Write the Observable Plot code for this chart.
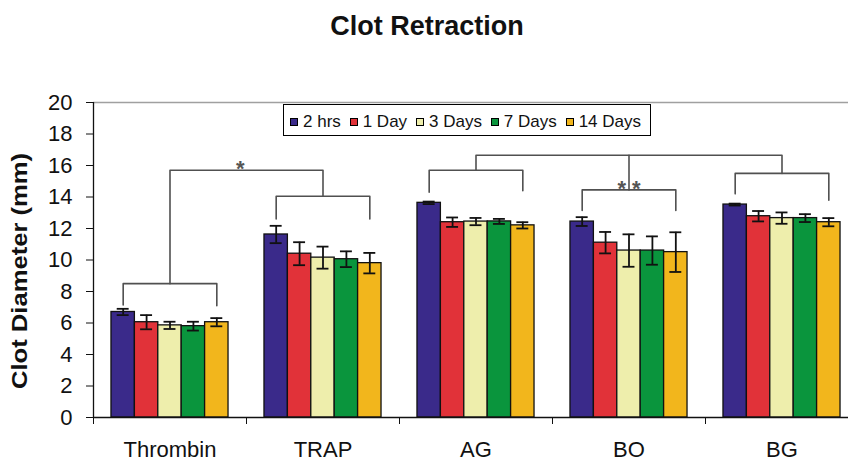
<!DOCTYPE html>
<html><head><meta charset="utf-8">
<script src="https://cdn.jsdelivr.net/npm/d3@7"></script>
<script src="https://cdn.jsdelivr.net/npm/@observablehq/plot@0.6"></script>
<style>
body{margin:0;background:#fff;font-family:"Liberation Sans",Arial,sans-serif;}
#wrap{position:relative;width:848px;height:462px;overflow:hidden;background:#fff}
#title{height:50px;box-sizing:border-box;padding-top:13px;font-size:27px;line-height:27px;font-weight:bold;text-align:center;padding-left:6px;color:#111}
#legend{position:absolute;left:283px;top:104px;width:368px;height:32px;box-sizing:border-box;border:1px solid #000;background:#fff;display:flex;align-items:center;justify-content:space-between;padding:3px 9px 0 6px;font-size:17px;color:#111}
.item{display:flex;align-items:center;white-space:nowrap}
.sw{width:6px;height:6px;border:1px solid #000;margin-right:5px}
</style></head>
<body><div id="wrap"><div id="title">Clot Retraction</div><div id="chart"></div><div id="legend"></div></div>
<script>
// ---- data ----
const categories = ["Thrombin", "TRAP", "AG", "BO", "BG"];
const seriesNames = ["2 hrs", "1 Day", "3 Days", "7 Days", "14 Days"];
const seriesColors = ["#3a2a8a", "#e13239", "#eeeeac", "#0a953d", "#f2b61c"];

const hrs2  = [6.7, 11.62, 13.63, 12.44, 13.52];
const day1  = [6.05, 10.4, 12.4, 11.1, 12.78];
const day3  = [5.85, 10.15, 12.44, 10.6, 12.66];
const day7  = [5.8, 10.05, 12.45, 10.6, 12.66];
const day14 = [6.05, 9.8, 12.2, 10.5, 12.4];

const err2  = [0.2, 0.55, 0.08, 0.28, 0.06];
const err1  = [0.45, 0.73, 0.3, 0.68, 0.33];
const err3  = [0.23, 0.7, 0.23, 1.03, 0.36];
const err7  = [0.28, 0.5, 0.16, 0.9, 0.25];
const err14 = [0.26, 0.65, 0.2, 1.26, 0.26];

const yTicks = [0, 2, 4, 6, 8, 10, 12, 14, 16, 18, 20];

// significance brackets per category (mm)
const bracketTop      = [8.5, 14.05, 15.7, 14.45, 15.5];
const bracketLeftEnd  = [7.15, 12.6, 14.3, 13.15, 14.2];
const bracketRightEnd = [7.1, 12.6, 14.4, 13.15, 13.8];
// connectors joining brackets
const linkFrom = ["Thrombin", "AG"];
const linkTo   = ["TRAP", "BG"];
const linkVia  = [null, "BO"];
const linkTop  = [15.7, 16.65];
// stars
const starText = ["*", "* *"];
const starX    = [0.46, 3];
const starY    = [15.75, 14.5];

// ---- build tables ----
const W = 0.153;   // bar width in category units
const CAP = 0.039; // half cap width
const allMeans = [hrs2, day1, day3, day7, day14];
const allErrs = [err2, err1, err3, err7, err14];
const rows = [];
categories.forEach((c, i) => seriesNames.forEach((s, j) => {
  rows.push({cat: c, series: s, gi: i, j, value: allMeans[j][i], err: allErrs[j][i]});
}));
const cx = d => d.gi + (d.j - 2) * W;

const pts = [];
categories.forEach((c, i) => {
  const id = "b" + i;
  pts.push({id, x: i - 2 * W, y: bracketLeftEnd[i]});
  pts.push({id, x: i - 2 * W, y: bracketTop[i]});
  pts.push({id, x: i + 2 * W, y: bracketTop[i]});
  pts.push({id, x: i + 2 * W, y: bracketRightEnd[i]});
});
linkFrom.forEach((f, k) => {
  const a = categories.indexOf(f), b = categories.indexOf(linkTo[k]);
  const id = "l" + k;
  pts.push({id, x: a, y: bracketTop[a]});
  pts.push({id, x: a, y: linkTop[k]});
  pts.push({id, x: b, y: linkTop[k]});
  pts.push({id, x: b, y: bracketTop[b]});
  if (linkVia[k]) {
    const v = categories.indexOf(linkVia[k]);
    pts.push({id: id + "v", x: v, y: linkTop[k]});
    pts.push({id: id + "v", x: v, y: bracketTop[v]});
  }
});
const stars = starText.map((t, k) => ({t, x: starX[k], y: starY[k]}));

const ink = "#111";
const chart = Plot.plot({
  width: 848, height: 412,
  marginTop: 52, marginBottom: 45, marginLeft: 93, marginRight: 0,
  x: {domain: [-0.5, 4.5], range: [93, 858]},
  y: {domain: [0, 20]},
  color: {domain: seriesNames, range: seriesColors},
  style: {fontFamily: '"Liberation Sans", Arial, sans-serif', fontSize: "22px", background: "white", color: ink, overflow: "visible"},
  marks: [
    Plot.ruleY([20], {stroke: "#a0a0a0", strokeWidth: 1.5}),
    Plot.rect(rows, {x1: d => cx(d) - W / 2, x2: d => cx(d) + W / 2, y1: 0, y2: "value", fill: "series", stroke: ink, strokeWidth: 1.3}),
    Plot.ruleX(rows, {x: cx, y1: d => d.value - d.err, y2: d => d.value + d.err, stroke: ink, strokeWidth: 1.8}),
    Plot.ruleY(rows, {y: d => d.value + d.err, x1: d => cx(d) - CAP, x2: d => cx(d) + CAP, stroke: ink, strokeWidth: 1.8}),
    Plot.ruleY(rows, {y: d => d.value - d.err, x1: d => cx(d) - CAP, x2: d => cx(d) + CAP, stroke: ink, strokeWidth: 1.8}),
    Plot.line(pts, {x: "x", y: "y", z: "id", stroke: "#505050", strokeWidth: 1.6}),
    Plot.text(stars, {x: "x", y: "y", text: "t", fill: "#555", fontSize: 22, fontWeight: "bold"}),
    Plot.ruleY([0], {stroke: ink, strokeWidth: 1.5}),
    Plot.ruleX([-0.5], {y1: 0, y2: 20, stroke: ink, strokeWidth: 1.3}),
    Plot.axisY({ticks: yTicks, tickSize: 7, tickPadding: 14, label: null, stroke: ink}),
    Plot.axisX({ticks: [-0.5, 0.5, 1.5, 2.5, 3.5, 4.5], tickSize: 7, tickFormat: () => "", label: null, stroke: ink}),
    Plot.axisX({ticks: [0, 1, 2, 3, 4], tickSize: 0, tickPadding: 24, tickFormat: i => categories[i], label: null})
  ]
});
d3.select(chart).append("text")
  .attr("transform", "translate(27,221) rotate(-90)")
  .attr("text-anchor", "middle")
  .attr("font-weight", "bold")
  .attr("font-size", 22)
  .attr("fill", ink)
  .attr("textLength", 236)
  .attr("lengthAdjust", "spacingAndGlyphs")
  .text("Clot Diameter (mm)");
document.getElementById("chart").appendChild(chart);

const legend = d3.select("#legend");
seriesNames.forEach((s, j) => {
  const it = legend.append("div").attr("class", "item");
  it.append("div").attr("class", "sw").style("background", seriesColors[j]);
  it.append("span").text(s);
});
</script>
</body></html>
